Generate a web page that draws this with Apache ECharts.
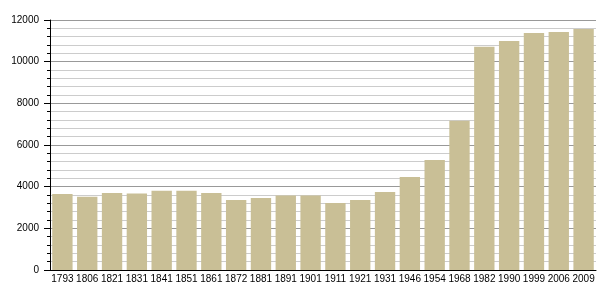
<!DOCTYPE html>
<html><head><meta charset="utf-8">
<script src="https://cdn.jsdelivr.net/npm/echarts@6/dist/echarts.min.js"></script>
<style>html,body{margin:0;padding:0;background:#fff}#c{width:605px;height:300px}</style>
</head><body><div id="c"></div>
<script>
var categories = ['1793','1806','1821','1831','1841','1851','1861','1872','1881','1891','1901','1911','1921','1931','1946','1954','1968','1982','1990','1999','2006','2009'];
var population = [3650,3520,3700,3670,3800,3800,3700,3360,3460,3580,3580,3220,3360,3750,4460,5280,7170,10720,10990,11380,11430,11570];
var yTicks = [0,2000,4000,6000,8000,10000,12000];
var chart = echarts.init(document.getElementById('c'));
chart.setOption({
  animation:false,
  grid:{left:50,right:9,top:20,bottom:30},
  xAxis:{type:'category',data:categories,
    axisLine:{lineStyle:{color:'#000',width:1}},
    axisTick:{show:false},
    axisLabel:{color:'#000',fontFamily:'Liberation Sans, Arial',fontSize:10,margin:4,interval:0}},
  yAxis:{type:'value',min:yTicks[0],max:yTicks[yTicks.length-1],interval:2000,
    axisLine:{show:true,lineStyle:{color:'#000'}},
    axisTick:{show:true,length:6,lineStyle:{color:'#000'}},
    minorTick:{show:true,splitNumber:5,length:3,lineStyle:{color:'#000'}},
    splitLine:{show:true,lineStyle:{color:'#999',width:1}},
    minorSplitLine:{show:true,lineStyle:{color:'#ccc',width:1}},
    axisLabel:{color:'#000',fontFamily:'Liberation Sans, Arial',fontSize:10,margin:11,
      formatter:function(v){return String(v);}}},
  series:[{type:'bar',data:population,barCategoryGap:'18%',
    itemStyle:{color:'#c9bf96'}}]
});
</script></body></html>
